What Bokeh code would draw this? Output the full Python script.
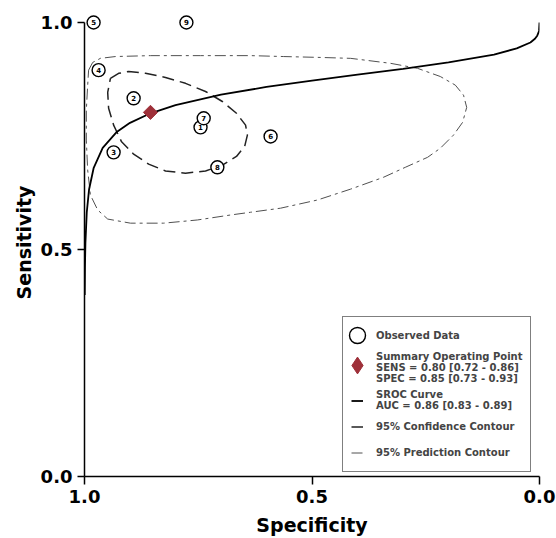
import math
from bokeh.plotting import figure
from bokeh.models import Range1d, FixedTicker, NumeralTickFormatter, Legend, LegendItem
from bokeh.core.properties import value
from bokeh.embed import file_html
from bokeh.resources import INLINE

# Observed studies (specificity, sensitivity)
obs_labels = ["1", "2", "3", "4", "5", "6", "7", "8", "9"]
obs_spec = [0.745, 0.892, 0.936, 0.969, 0.980, 0.591, 0.738, 0.708, 0.776]
obs_sens = [0.769, 0.833, 0.714, 0.895, 1.000, 0.749, 0.789, 0.681, 1.000]

# Summary operating point
sum_spec = [0.855]
sum_sens = [0.802]

# SROC curve
sroc_spec = [0.9995, 0.999, 0.998, 0.995, 0.99, 0.98, 0.96, 0.93, 0.90, 0.855, 0.80, 0.70, 0.60,
             0.50, 0.40, 0.30, 0.20, 0.10, 0.05, 0.02, 0.01, 0.005, 0.002, 0.001, 0.0]
sroc_sens = [0.40, 0.462, 0.514, 0.582, 0.632, 0.679, 0.724, 0.758, 0.779, 0.800, 0.818, 0.841, 0.858,
             0.872, 0.885, 0.898, 0.912, 0.929, 0.943, 0.956, 0.964, 0.971, 0.978, 0.982, 1.0]

# 95% confidence contour
conf_spec = [0.943, 0.925, 0.903, 0.866, 0.822, 0.778, 0.734, 0.697, 0.666, 0.646, 0.642, 0.648,
             0.666, 0.697, 0.734, 0.778, 0.822, 0.859, 0.892, 0.919, 0.936, 0.947, 0.949, 0.943]
conf_sens = [0.877, 0.888, 0.892, 0.888, 0.879, 0.866, 0.848, 0.826, 0.800, 0.774, 0.752, 0.727,
             0.705, 0.686, 0.673, 0.668, 0.673, 0.688, 0.710, 0.738, 0.774, 0.811, 0.846, 0.877]

# 95% prediction contour
pred_spec = [0.991, 0.982, 0.965, 0.932, 0.855, 0.745, 0.635, 0.563, 0.481, 0.415, 0.327, 0.268,
             0.218, 0.185, 0.167, 0.160, 0.169, 0.189, 0.218, 0.246, 0.295, 0.343, 0.415, 0.488,
             0.569, 0.635, 0.679, 0.752, 0.826, 0.899, 0.949, 0.971, 0.987, 0.993, 0.996, 0.996,
             0.993, 0.991]
pred_sens = [0.895, 0.912, 0.921, 0.925, 0.927, 0.927, 0.927, 0.925, 0.923, 0.921, 0.910, 0.899,
             0.881, 0.862, 0.840, 0.813, 0.780, 0.752, 0.723, 0.703, 0.681, 0.659, 0.633, 0.609,
             0.591, 0.582, 0.576, 0.565, 0.558, 0.558, 0.567, 0.587, 0.620, 0.675, 0.741, 0.807,
             0.862, 0.895]

x_ticks = [1.0, 0.5, 0.0]
y_ticks = [0.0, 0.5, 1.0]

legend_labels = [
    "Observed Data",
    "Summary Operating Point\nSENS = 0.80 [0.72 - 0.86]\nSPEC = 0.85 [0.73 - 0.93]",
    "SROC Curve\nAUC = 0.86 [0.83 - 0.89]",
    "95% Confidence Contour",
    "95% Prediction Contour",
]

FONT = "DejaVu Sans"
RED = "#9E3039"

# a little headroom above 1.0 so the circles at sensitivity 1.0 are not clipped
p = figure(width=556, height=538, output_backend="svg", toolbar_location=None,
           x_range=Range1d(1.0, 0.0), y_range=Range1d(0.0, 1.0308),
           min_border_left=84, min_border_right=17, min_border_top=8, min_border_bottom=61)
p.outline_line_color = None
p.xgrid.visible = False
p.ygrid.visible = False
p.background_fill_color = "white"

for ax in (p.xaxis[0], p.yaxis[0]):
    ax.axis_line_color = "black"
    ax.axis_line_width = 1.5
    ax.major_tick_line_color = "black"
    ax.major_tick_line_width = 1.5
    ax.major_tick_in = 0
    ax.minor_tick_line_color = None
    ax.formatter = NumeralTickFormatter(format="0.0")
    ax.major_label_text_font = FONT
    ax.major_label_text_font_style = "bold"
    ax.major_label_text_font_size = "18px"
    ax.major_label_text_color = "black"
    ax.axis_label_text_font = FONT
    ax.axis_label_text_font_style = "bold"
    ax.axis_label_text_font_size = "19px"
    ax.axis_label_text_color = "black"

p.xaxis.ticker = FixedTicker(ticks=x_ticks)
p.yaxis.ticker = FixedTicker(ticks=y_ticks)
p.yaxis.bounds = (0.0, 1.0)
p.xaxis.axis_label = "Specificity"
p.yaxis.axis_label = "Sensitivity"
p.xaxis.major_tick_out = 8
p.yaxis.major_tick_out = 7
p.xaxis.major_label_standoff = 5
p.xaxis.axis_label_standoff = 8
p.yaxis.major_label_standoff = 5
p.yaxis.axis_label_standoff = 3

pred = p.line(pred_spec, pred_sens, line_color="#505050", line_width=1.0, line_dash="11 4 3 4")
conf = p.line(conf_spec, conf_sens, line_color="#222222", line_width=1.5, line_dash="12 6")
sroc = p.line(sroc_spec, sroc_sens, line_color="black", line_width=1.8)

obs = p.scatter(obs_spec, obs_sens, marker="circle", size=13, fill_color="white",
                line_color="black", line_width=1.4)
p.text(obs_spec, obs_sens, text=obs_labels, text_align="center", text_baseline="middle",
       text_font=value(FONT), text_font_style="bold", text_font_size="7px", text_color="black")

# diamond-shaped copy of the summary point (hidden beneath the rotated square); used as legend symbol
summ_leg = p.scatter(sum_spec, sum_sens, marker="diamond", size=10, fill_color=RED, line_color=RED)
summ = p.scatter(sum_spec, sum_sens, marker="square", size=10, angle=math.pi / 4,
                 fill_color=RED, line_color=RED)

# empty renderer: keeps a blank symbol slot in the main legend
blank = p.scatter(x=[], y=[], marker="circle", fill_alpha=0, line_alpha=0)

legend = Legend(items=[
    LegendItem(label=legend_labels[0], renderers=[blank]),
    LegendItem(label=legend_labels[1], renderers=[blank]),
    LegendItem(label=legend_labels[2], renderers=[sroc]),
    LegendItem(label=legend_labels[3], renderers=[conf]),
    LegendItem(label=legend_labels[4], renderers=[pred]),
], location=(258, 4))
legend.label_text_font = FONT
legend.label_text_font_style = "bold"
legend.label_text_font_size = "10px"
legend.label_text_line_height = 0.85
legend.label_height = 12
legend.glyph_height = 21
legend.glyph_width = 12
legend.label_standoff = 13
legend.spacing = 5
legend.padding = 8
legend.border_line_color = "black"
legend.border_line_width = 1.2
legend.background_fill_color = "white"
legend.background_fill_alpha = 1.0
p.add_layout(legend, "center")


def symbol_legend(renderer, glyph, loc):
    # larger legend symbols drawn on top of the main legend's blank slots
    lg = Legend(items=[LegendItem(label=" ", renderers=[renderer])], location=loc)
    lg.glyph_width = glyph
    lg.glyph_height = glyph
    lg.padding = 0
    lg.spacing = 0
    lg.label_standoff = 0
    lg.label_height = 1
    lg.label_width = 1
    lg.label_text_font_size = "1px"
    lg.border_line_color = None
    lg.background_fill_alpha = 0
    return lg


p.add_layout(symbol_legend(obs, 40, (253, 121)), "center")
p.add_layout(symbol_legend(summ_leg, 42, (252, 90)), "center")

open("out.html", "w").write(file_html(p, INLINE))
